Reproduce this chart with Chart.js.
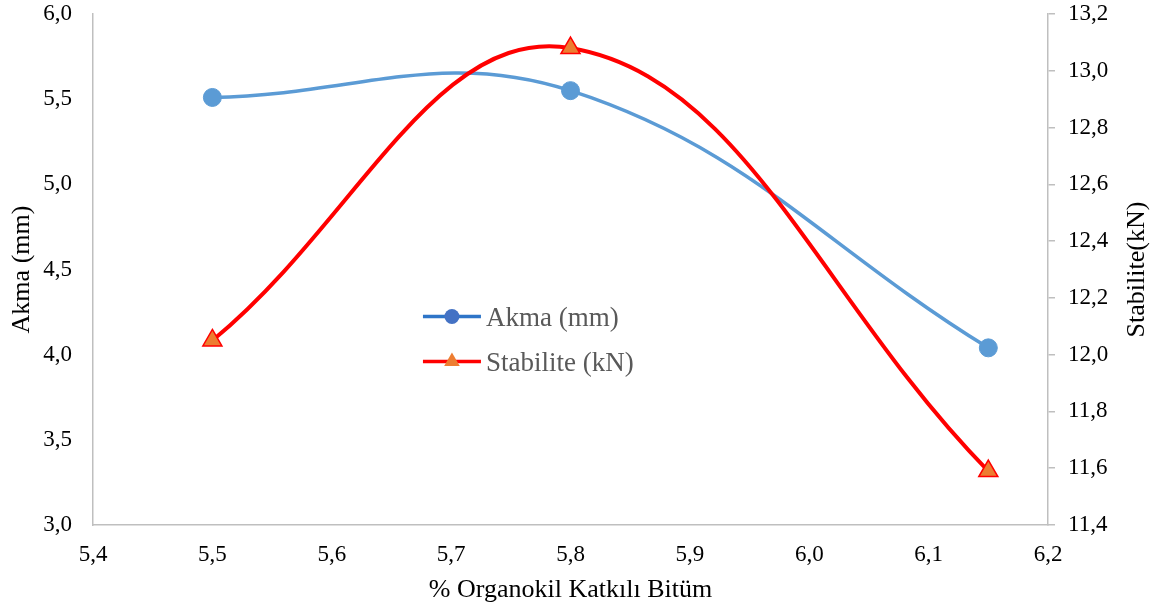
<!DOCTYPE html>
<html>
<head>
<meta charset="utf-8">
<script src="https://cdn.jsdelivr.net/npm/chart.js@4/dist/chart.umd.min.js"></script>
<style>
    html, body { margin: 0; padding: 0; background: #fff; }
    #wrap { position: relative; width: 1172px; height: 612px; }
</style>
</head>
<body>
<div id="wrap"><canvas id="chart"></canvas></div>
<script>
const binderPct = [5.5, 5.8, 6.15];
const akmaValues = [5.51, 5.55, 4.04];
const stabiliteValues = [12.05, 13.08, 11.59];
const seriesNames = ['Akma (mm)', 'Stabilite (kN)'];
const xTitle = '% Organokil Katkılı Bitüm';
const leftTitle = 'Akma (mm)';
const rightTitle = 'Stabilite(kN)';

const SERIF = '"Liberation Serif", "Times New Roman", serif';
const AXIS_GREY = '#BFBFBF';

const comma = v => Number(v).toFixed(1).replace('.', ',');

// fixed axis box sizes so the plot area lands where it should
const sizeY = w => s => { s.width = w; s.paddingTop = 14; s.paddingBottom = 0; };

// Legend sits inside the plot, drawn by hand
const innerLegend = {
    id: 'innerLegend',
    afterDatasetsDraw(chart) {
        const { ctx, chartArea: a } = chart;
        const x0 = a.left + (a.right - a.left) * 0.3455;
        const rows = [0.592, 0.68];
        ctx.save();
        chart.data.datasets.forEach((ds, i) => {
            const y = a.top + (a.bottom - a.top) * rows[i];
            ctx.strokeStyle = ds.legendLine;
            ctx.lineWidth = 3.5;
            ctx.beginPath();
            ctx.moveTo(x0, y);
            ctx.lineTo(x0 + 58, y);
            ctx.stroke();
            ctx.fillStyle = ds.legendMarker;
            ctx.strokeStyle = ds.legendMarker;
            Chart.helpers.drawPoint(ctx, {
                pointStyle: ds.pointStyle,
                radius: ds.pointStyle === 'circle' ? 7.5 : 9,
                rotation: 0,
                borderWidth: 0
            }, x0 + 29, y);
            ctx.fillStyle = '#595959';
            ctx.font = '27px ' + SERIF;
            ctx.textAlign = 'left';
            ctx.textBaseline = 'middle';
            ctx.fillText(ds.label, x0 + 63, y + 2);
        });
        ctx.restore();
    }
};

// Right axis title reads bottom-to-top like the left one
const rightAxisTitle = {
    id: 'rightAxisTitle',
    afterDraw(chart) {
        const { ctx, chartArea: a } = chart;
        ctx.save();
        ctx.translate(1137, (a.top + a.bottom) / 2);
        ctx.rotate(-Math.PI / 2);
        ctx.fillStyle = '#000';
        ctx.font = '26px ' + SERIF;
        ctx.textAlign = 'center';
        ctx.textBaseline = 'middle';
        ctx.fillText(rightTitle, 0, 0);
        ctx.restore();
    }
};

new Chart(document.getElementById('chart'), {
    type: 'line',
    data: {
        datasets: [
            {
                label: seriesNames[0],
                data: binderPct.map((x, i) => ({ x, y: akmaValues[i] })),
                yAxisID: 'y',
                borderColor: '#5B9BD5',
                borderWidth: 3.5,
                pointStyle: 'circle',
                pointRadius: 9,
                pointBackgroundColor: '#5B9BD5',
                pointBorderColor: '#5B9BD5',
                pointBorderWidth: 1,
                tension: 0.4,
                order: 1,
                legendLine: '#2E75C8',
                legendMarker: '#4472C4'
            },
            {
                label: seriesNames[1],
                data: binderPct.map((x, i) => ({ x, y: stabiliteValues[i] })),
                yAxisID: 'y1',
                borderColor: '#FF0000',
                borderWidth: 4,
                pointStyle: 'triangle',
                pointRadius: 11,
                pointBackgroundColor: '#ED7D31',
                pointBorderColor: '#FF0000',
                pointBorderWidth: 1.5,
                tension: 0.4,
                order: 0,
                legendLine: '#FF0000',
                legendMarker: '#ED7D31'
            }
        ]
    },
    options: {
        responsive: true,
        maintainAspectRatio: false,
        animation: false,
        layout: { padding: 0 },
        plugins: {
            legend: { display: false },
            tooltip: { enabled: false }
        },
        scales: {
            x: {
                type: 'linear',
                min: 5.4,
                max: 6.2,
                afterFit: s => { s.height = 87; },
                grid: { drawOnChartArea: false, drawTicks: false },
                border: { color: AXIS_GREY, width: 1.5 },
                ticks: {
                    stepSize: 0.1,
                    padding: 16,
                    color: '#000',
                    font: { family: SERIF, size: 23 },
                    callback: v => comma(v)
                },
                title: {
                    display: true,
                    text: xTitle,
                    color: '#000',
                    font: { family: SERIF, size: 26 },
                    padding: { top: 0, bottom: 6 }
                }
            },
            y: {
                position: 'left',
                min: 3,
                max: 6,
                afterFit: sizeY(93),
                grid: { drawOnChartArea: false, drawTicks: false },
                border: { color: AXIS_GREY, width: 1.5 },
                ticks: {
                    stepSize: 0.5,
                    padding: 21,
                    color: '#000',
                    font: { family: SERIF, size: 23 },
                    callback: v => comma(v)
                },
                title: {
                    display: true,
                    text: leftTitle,
                    color: '#000',
                    font: { family: SERIF, size: 26 },
                    padding: { top: 7, bottom: 0 }
                }
            },
            y1: {
                position: 'right',
                min: 11.4,
                max: 13.2,
                afterFit: sizeY(124),
                grid: { drawOnChartArea: false, drawTicks: true, tickLength: 7, color: AXIS_GREY, lineWidth: 1.5 },
                border: { color: AXIS_GREY, width: 1.5 },
                ticks: {
                    stepSize: 0.2,
                    padding: 13,
                    color: '#000',
                    font: { family: SERIF, size: 23 },
                    callback: v => comma(v)
                }
            }
        }
    },
    plugins: [innerLegend, rightAxisTitle]
});
</script>
</body>
</html>
